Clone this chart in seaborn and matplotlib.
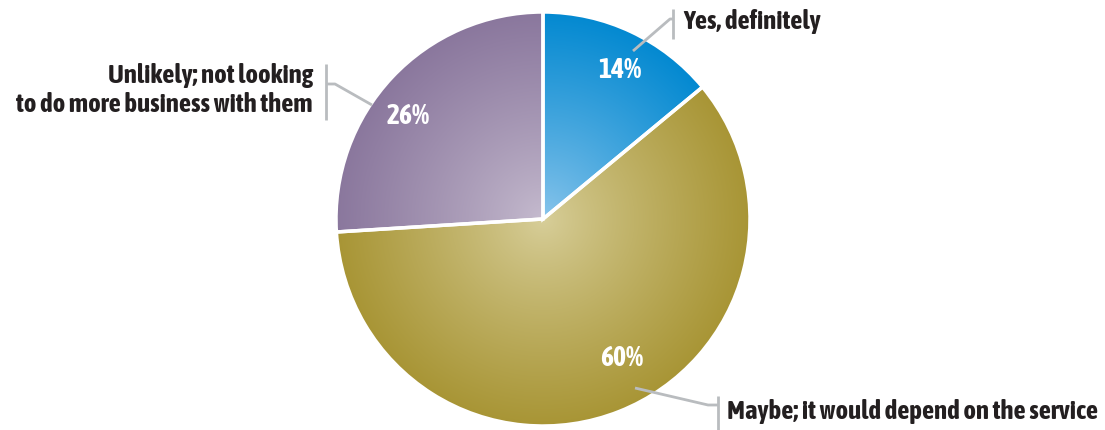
import numpy as np
import matplotlib
matplotlib.use("Agg")
import matplotlib.pyplot as plt
from matplotlib import font_manager
from matplotlib.patches import Wedge
from matplotlib.colors import to_rgb
import seaborn as sns

# Survey answers and their shares (%)
categories = ["Yes, definitely",
              "Maybe; it would depend on the service",
              "Unlikely; not looking\nto do more business with them"]
shares = [14, 60, 26]
# (inner, outer) colours of each slice's radial shading
inner_colors = ["#8cc6ec", "#d8cf9b", "#c6bccf"]
outer_colors = ["#0389d1", "#a89535", "#8a779d"]

sns.set_theme(style="white")
names = {f.name for f in font_manager.fontManager.ttflist}
family = "Asap Condensed" if "Asap Condensed" in names else "DejaVu Sans"
plt.rcParams["font.family"] = [family, "DejaVu Sans"]

W, H = 1105, 430
fig = plt.figure(figsize=(W / 100, H / 100), dpi=100)
ax = fig.add_axes([0, 0, 1, 1])

cx, cy, R = 543, H - 219, 207
wedges, _ = ax.pie(shares, colors=outer_colors, startangle=90, counterclock=False,
                   center=(cx, cy), radius=R, wedgeprops=dict(linewidth=0))

# radial shading inside every slice
n = 500
xs = np.linspace(cx - R, cx + R, n)
ys = np.linspace(cy - R, cy + R, n)
X, Y = np.meshgrid(xs, ys)
t = np.clip(np.hypot(X - cx, Y - cy) / R, 0, 1) ** 0.85
for w, c0, c1 in zip(wedges, inner_colors, outer_colors):
    a, b = np.array(to_rgb(c0)), np.array(to_rgb(c1))
    img = a[None, None, :] * (1 - t[..., None]) + b[None, None, :] * t[..., None]
    im = ax.imshow(img, extent=(cx - R, cx + R, cy - R, cy + R), origin="lower",
                   zorder=2, interpolation="bilinear")
    im.set_clip_path(w)
    ax.add_patch(Wedge(w.center, w.r, w.theta1, w.theta2, facecolor="none",
                       edgecolor="white", linewidth=2.5, zorder=3))

# percentage labels inside the slices
pct_pos = [(620, 70), (622, 358), (408, 117)]
for v, (px, py) in zip(shares, pct_pos):
    ax.text(px, H - py, f"{v}%", color="white", fontsize=20, fontweight="bold",
            ha="center", va="center", zorder=5)

line_kw = dict(color="#b9bcbf", linewidth=2, solid_capstyle="butt", zorder=4)
txt_kw = dict(color="#231f20", fontsize=19.3, fontweight="bold", zorder=5)

# Yes, definitely
ax.plot([633, 670, 673], [H - 51, H - 19, H - 19], **line_kw)
ax.plot([673, 673], [H - 9, H - 39], **line_kw)
ax.text(683, H - 22, categories[0], ha="left", va="center", **txt_kw)

# Maybe
ax.plot([635, 708, 718], [H - 388, H - 405, H - 405], **line_kw)
ax.plot([718, 718], [H - 396, H - 432], **line_kw)
ax.text(727, H - 411, categories[1], ha="left", va="center", **txt_kw)

# Unlikely
ax.plot([372, 335, 326], [H - 105, H - 84, H - 84], **line_kw)
ax.plot([326, 326], [H - 64, H - 120], **line_kw)
ax.text(313, H - 90, categories[2], ha="right", va="center", multialignment="right",
        linespacing=1.15, **txt_kw)

ax.set_xlim(0, W)
ax.set_ylim(0, H)
ax.set_aspect("equal")
ax.axis("off")
fig.savefig("out.png", dpi=100, facecolor="white")
